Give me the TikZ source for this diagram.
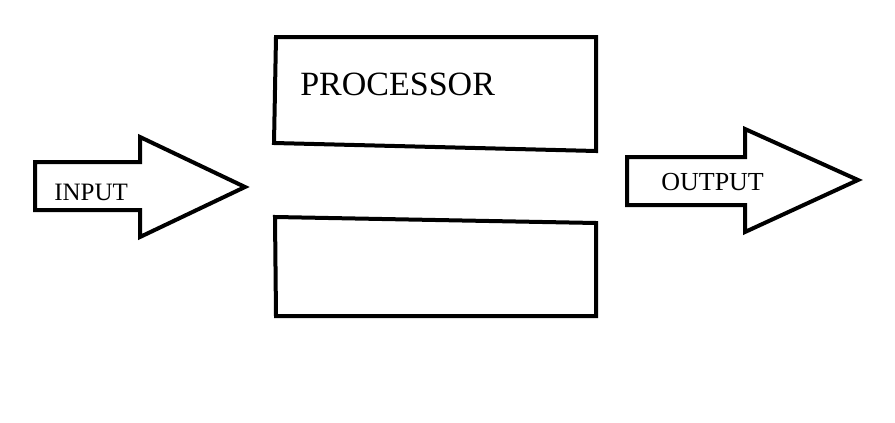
\documentclass[tikz,border=0pt]{standalone}
\usepackage{fontspec}
\setmainfont{Liberation Serif}
\usepackage{tikz}

\begin{document}
\begin{tikzpicture}[x=1pt,y=-1pt,line width=4pt,line join=miter]
\useasboundingbox[fill=white] (0,0) rectangle (895,423);
% input arrow
\draw (35,162) -- (140,162) -- (140,137) -- (245,187) -- (140,237) -- (140,210) -- (35,210) -- cycle;
\node[font=\fontsize{25}{25}\selectfont,anchor=west] (input) at (49,192) {INPUT};
% processor box
\coordinate (ptl) at (276,37);
\coordinate (ptr) at (596,37);
\draw (274,143) -- (ptl) -- (ptr) -- (596,151) -- cycle;
\node[font=\fontsize{34}{34}\selectfont,anchor=west] (proc) at (295,84) {PROCESSOR};
% lower box
\draw (275,217) -- (596,223) -- (596,316) -- (276,316) -- cycle;
% output arrow
\draw (627,157) -- (745,157) -- (745,129) -- (858,180) -- (745,232) -- (745,205) -- (627,205) -- cycle;
\node[font=\fontsize{26}{26}\selectfont,anchor=west] (output) at (656,182) {OUTPUT};
\end{tikzpicture}
\end{document}
